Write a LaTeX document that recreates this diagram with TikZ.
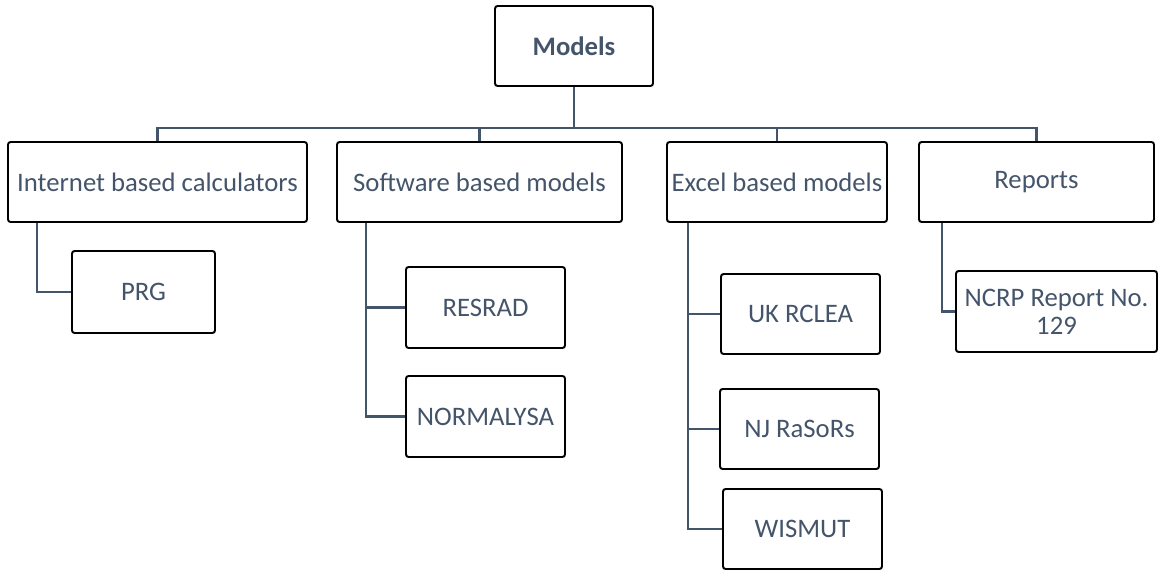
\documentclass[tikz,border=0pt]{standalone}
\usepackage{fontspec}
\setmainfont{Carlito}
\definecolor{slate}{HTML}{44546A}
\newcommand{\px}{0.02cm}
\tikzset{
  box/.style n args={2}{draw=black, line width=1.1pt, rounded corners=1.5pt,
    minimum width=#1*\px, minimum height=#2*\px, inner sep=0pt, align=center,
    text=slate, font=\fontsize{15.2}{16}\selectfont},
  conn/.style={draw=slate, line width=1.6pt}
}
\begin{document}
\begin{tikzpicture}[x=0.02cm, y=-0.02cm]
  \useasboundingbox (0,0) rectangle (1159,581);
  % caixas
  \node[box={158}{80}] (models) at (574,46) {\bfseries Models};
  \node[box={299}{80}] (int) at (157.5,182) {Internet based calculators};
  \node[box={285}{80}] (soft) at (479.5,182) {Software based models};
  \node[box={220}{80}] (excel) at (777,182) {Excel based models};
  \node[box={235}{80}] (rep) at (1036.5,182) {Reports};
  \node[box={143}{82}] (prg) at (143.5,292) {PRG};
  \node[box={159}{81}] (resrad) at (485.5,307.5) {RESRAD};
  \node[box={159}{81}] (normalysa) at (485.5,416.5) {NORMALYSA};
  \node[box={159}{80}] (ukrclea) at (800.5,314) {UK RCLEA};
  \node[box={159}{80}] (njrasors) at (799.5,429) {NJ RaSoRs};
  \node[box={159}{80}] (wismut) at (802.5,529) {WISMUT};
  \node[box={201}{81}] (ncrp) at (1056.5,311.5) {NCRP Report No.\\129};
  % barramento
  \draw[conn] (models.south) -- ++(0,41) coordinate (bus);
  \foreach \n in {int,soft,excel,rep} \draw[conn] (bus) -| (\n.north);
  % ramos
  \draw[conn] ([xshift=30*\px]int.south west) |- (prg.west);
  \foreach \n in {resrad,normalysa} \draw[conn] ([xshift=30*\px]soft.south west) |- (\n.west);
  \foreach \n in {ukrclea,njrasors,wismut} \draw[conn] ([xshift=22*\px]excel.south west) |- (\n.west);
  \draw[conn] ([xshift=24*\px]rep.south west) |- (ncrp.west);
\end{tikzpicture}
\end{document}
